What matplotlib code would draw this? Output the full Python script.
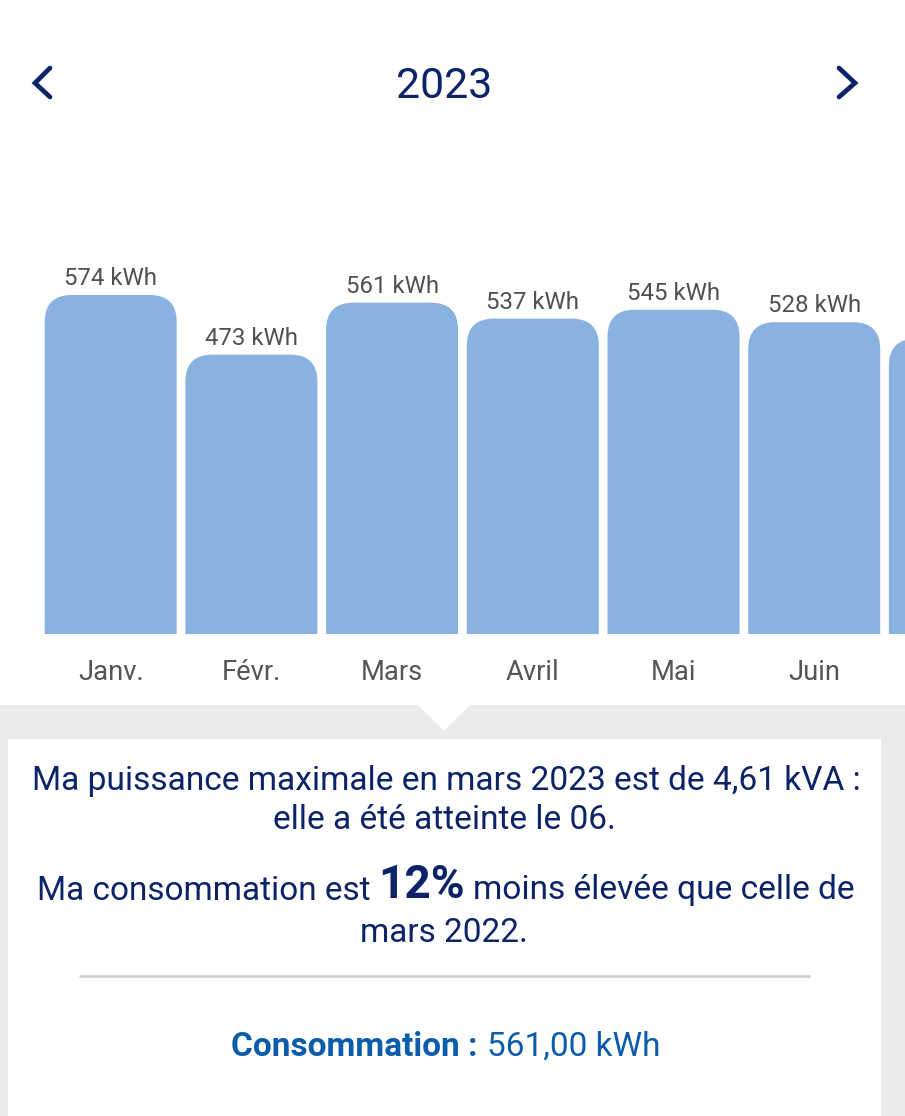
import matplotlib
matplotlib.use("Agg")
import matplotlib.pyplot as plt
from matplotlib.patches import PathPatch, Rectangle, Polygon
from matplotlib.path import Path

plt.rcParams['font.family'] = ['Roboto', 'DejaVu Sans']

months = ["Janv.", "Févr.", "Mars", "Avril", "Mai", "Juin", ""]
# bar heights as drawn in the picture, the labels are what the app prints
values = [574, 473, 561, 534, 549, 528, 500]
value_labels = ["574 kWh", "473 kWh", "561 kWh", "537 kWh", "545 kWh", "528 kWh", ""]

W, H = 905, 1116
NAVY = "#0c2368"
BLUE = "#8ab2e0"
GREY = "#ebebeb"

fig = plt.figure(figsize=(W / 100, H / 100), dpi=100, facecolor="white")
# page axes in pixel coordinates
bg = fig.add_axes([0, 0, 1, 1])
bg.set_xlim(0, W)
bg.set_ylim(H, 0)
bg.axis("off")

# bars axes: baseline at y=634, 574 kWh top at y=295
top_px, base_px = 295, 634
ax = fig.add_axes([0, 1 - base_px / H, 1, (base_px - top_px) / H])
ax.set_xlim(-110.7 / 140.7, (905 - 110.7) / 140.7)
ax.set_ylim(0, 574)
ax.axis("off")
ax.patch.set_alpha(0)

bar_w = 132 / 140.7
sx = W / (ax.get_xlim()[1] - ax.get_xlim()[0])
sy = (base_px - top_px) / 574
r = 27
for i, (m, v, lab) in enumerate(zip(months, values, value_labels)):
    # rounded top, square bottom
    x0 = i - bar_w / 2
    rx, ry = r / sx, r / sy
    verts = [(x0, 0), (x0, v - ry), (x0, v), (x0 + rx, v), (x0 + bar_w - rx, v),
             (x0 + bar_w, v), (x0 + bar_w, v - ry), (x0 + bar_w, 0), (x0, 0)]
    codes = [Path.MOVETO, Path.LINETO, Path.CURVE3, Path.CURVE3, Path.LINETO,
             Path.CURVE3, Path.CURVE3, Path.LINETO, Path.CLOSEPOLY]
    ax.add_patch(PathPatch(Path(verts, codes), fc=BLUE, ec="none", clip_on=False))
    if lab:
        ax.annotate(lab, (i, v), xytext=(0, 3.4), textcoords="offset points", ha="center", va="bottom",
                    fontsize=17.3, color="#505050", annotation_clip=False)
    if m:
        ax.annotate(m, (i, 0), xytext=(0, -27.5), textcoords="offset points", ha="center", va="center",
                    fontsize=19.7, color="#555555", annotation_clip=False)

# header
bg.text(444.5, 86, "2023", ha="center", va="center", fontsize=30.8, color=NAVY)
bg.plot([50, 35, 50], [68, 83, 97], color=NAVY, lw=3.4, solid_capstyle="round", solid_joinstyle="miter")
bg.plot([839, 855, 839], [68, 83, 97], color=NAVY, lw=3.4, solid_capstyle="round", solid_joinstyle="miter")

# panel
bg.add_patch(Rectangle((0, 705), W, H - 705, fc=GREY, ec="none"))
bg.add_patch(Polygon([(418, 705), (470, 705), (444, 731)], fc="white", ec="none"))
bg.add_patch(Rectangle((8, 739), 873, H - 739, fc="white", ec="none"))

bg.text(446, 781, "Ma puissance maximale en mars 2023 est de 4,61 kVA :", ha="center", va="center", fontsize=24.1, color=NAVY)
bg.text(444.5, 820, "elle a été atteinte le 06.", ha="center", va="center", fontsize=24.1, color=NAVY)
bg.text(37, 890.5, "Ma consommation est", ha="left", va="center", fontsize=24, color=NAVY)
bg.text(378, 885, "12%", ha="left", va="center", fontsize=33, fontweight="bold", color=NAVY)
bg.text(473, 890.5, "moins élevée que celle de", ha="left", va="center", fontsize=24.1, color=NAVY)
bg.text(444, 932.5, "mars 2022.", ha="center", va="center", fontsize=24, color=NAVY)
bg.plot([79, 810], [975.5, 975.5], color="#cccccc", lw=1.8, solid_capstyle="butt")
bg.text(231, 1047, "Consommation :", ha="left", va="center", fontsize=24, fontweight="bold", color="#0b5cab")
bg.text(487, 1047, "561,00 kWh", ha="left", va="center", fontsize=24, color="#0b5cab")

fig.savefig("out.png", dpi=100)
